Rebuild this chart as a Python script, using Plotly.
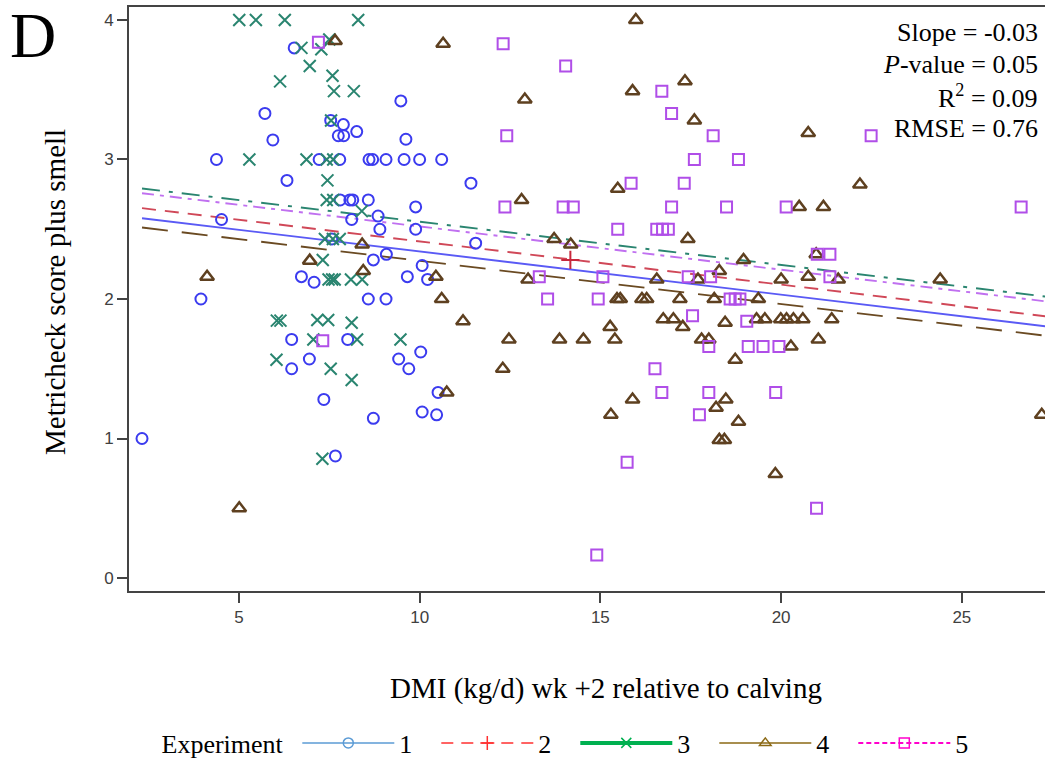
import plotly.graph_objects as go

# ---------------- data ----------------
exp1_x = [2.32, 3.95, 4.38, 4.52, 5.72, 5.94, 6.33, 6.53, 6.73, 7.08, 6.46, 6.95, 6.46, 7.35, 7.67,
          8.01, 8.72, 8.58, 9.07, 9.42, 7.22, 7.79, 8.60, 8.70, 9.07, 9.57, 10.00, 10.61, 9.48, 7.89,
          7.75, 7.90, 8.26, 9.62, 7.54, 11.42, 7.80, 8.07, 8.15, 8.58, 9.89, 8.12, 8.85, 8.90, 9.89,
          11.55, 8.72, 9.08, 9.66, 10.07, 10.22, 10.03, 9.70, 10.51, 10.07, 10.47, 7.57]
exp1_y = [1.00, 2.00, 3.00, 2.57, 3.33, 3.14, 2.85, 3.80, 2.16, 2.12, 1.71, 1.57, 1.50, 1.28, 0.875,
          1.71, 1.145, 2.00, 2.00, 1.57, 3.00, 3.00, 3.00, 3.00, 3.00, 3.00, 3.00, 3.00, 3.42, 3.25,
          3.17, 3.17, 3.20, 3.145, 3.28, 2.83, 2.71, 2.71, 2.71, 2.71, 2.66, 2.57, 2.595, 2.50, 2.50,
          2.40, 2.28, 2.32, 2.16, 2.24, 2.14, 1.62, 1.50, 1.33, 1.19, 1.17, 2.43]

exp2_x = [14.17]
exp2_y = [2.28]

exp3_x = [5.01, 5.47, 6.27, 8.30, 6.73, 7.28, 7.50, 6.96, 6.14, 7.59, 7.63, 8.18, 7.55, 5.29, 6.87,
          7.43, 7.61, 7.45, 7.43, 7.61, 8.40, 7.38, 7.60, 7.79, 7.32, 7.48, 7.58, 7.65, 8.10, 8.41,
          6.05, 6.15, 7.17, 7.47, 8.12, 7.06, 8.27, 9.47, 6.04, 7.54, 8.12, 7.31]
exp3_y = [4.00, 4.00, 4.00, 4.00, 3.80, 3.79, 3.86, 3.67, 3.56, 3.60, 3.49, 3.49, 3.28, 3.00, 3.00,
          3.00, 3.00, 2.85, 2.71, 2.71, 2.63, 2.43, 2.43, 2.43, 2.28, 2.14, 2.14, 2.14, 2.14, 2.14,
          1.845, 1.845, 1.85, 1.85, 1.83, 1.71, 1.71, 1.71, 1.565, 1.50, 1.42, 0.855]

exp4_x = [7.66, 4.12, 6.96, 8.41, 8.44, 5.01, 10.65, 15.98, 12.91, 15.89, 17.34, 17.60, 12.82, 15.48,
          13.72, 14.18, 17.42, 18.96, 18.29, 10.45, 13.00, 16.56, 17.70, 10.61, 15.46, 15.55, 16.15,
          16.28, 17.20, 18.15, 19.37, 20.75, 22.18, 20.50, 21.17, 20.97, 20.00, 20.75, 21.58, 24.40,
          11.20, 12.47, 13.87, 14.53, 15.40, 12.30, 10.75, 15.27, 16.74, 17.02, 17.28, 18.45, 17.80,
          18.00, 18.73, 19.32, 19.55, 19.99, 20.15, 20.34, 20.60, 21.40, 20.27, 21.03, 15.89, 15.29,
          18.20, 18.47, 18.82, 18.29, 18.43, 19.84, 27.21]
exp4_y = [3.85, 2.16, 2.275, 2.39, 2.20, 0.50, 3.83, 4.00, 3.43, 3.49, 3.56, 3.28, 2.71, 2.79,
          2.43, 2.39, 2.43, 2.28, 2.20, 2.16, 2.14, 2.14, 2.14, 2.00, 2.00, 2.00, 2.00,
          2.00, 2.00, 2.00, 2.00, 3.19, 2.82, 2.66, 2.66, 2.32, 2.14, 2.16, 2.14, 2.14,
          1.84, 1.71, 1.71, 1.71, 1.71, 1.50, 1.33, 1.80, 1.855, 1.855, 1.80, 1.83, 1.71,
          1.71, 1.565, 1.855, 1.855, 1.855, 1.855, 1.855, 1.855, 1.855, 1.66, 1.71, 1.28, 1.17,
          1.22, 1.28, 1.12, 0.99, 0.99, 0.745, 1.17]

exp5_x = [7.20, 7.32, 12.31, 14.04, 16.70, 16.97, 12.41, 18.12, 17.60, 18.82, 15.85, 17.32, 12.36,
          13.97, 14.25, 16.97, 18.49, 20.14, 26.64, 22.49, 15.48, 16.56, 16.72, 16.88, 21.00, 21.35,
          13.31, 15.07, 17.43, 18.05, 21.35, 13.54, 14.94, 18.59, 18.73, 18.86, 17.55, 19.05, 18.00,
          19.09, 19.50, 19.94, 16.51, 16.70, 18.00, 19.85, 17.74, 15.74, 14.90, 20.98]
exp5_y = [3.84, 1.70, 3.83, 3.67, 3.49, 3.33, 3.17, 3.17, 3.00, 3.00, 2.83, 2.83, 2.66,
          2.66, 2.66, 2.66, 2.66, 2.66, 2.66, 3.17, 2.50, 2.50, 2.50, 2.50, 2.32, 2.32,
          2.16, 2.16, 2.16, 2.16, 2.16, 2.00, 2.00, 2.00, 2.00, 2.00, 1.88, 1.84, 1.66,
          1.66, 1.66, 1.66, 1.50, 1.33, 1.33, 1.33, 1.17, 0.83, 0.165, 0.50]

experiments = ["1", "2", "3", "4", "5"]
fit_slope = -0.031
fit_intercepts = [2.651, 2.723, 2.864, 2.584, 2.830]

stats_lines = ["Slope = -0.03", "<i>P</i>-value = 0.05", "R<sup>2</sup> = 0.09", "RMSE = 0.76"]
x_ticks = [5, 10, 15, 20, 25]
y_ticks = [0, 1, 2, 3, 4]

# ---------------- styles ----------------
marker_colors = ["#3b3bef", "#c8283c", "#2a8570", "#5e4020", "#b04ee8"]
marker_symbols = ["circle-open", "cross-thin-open", "x-thin-open", "triangle-up-open", "square-open"]
marker_sizes = [11, 13, 12, 12, 11]
marker_lw = [2, 2, 2, 2.5, 2]
line_colors = ["#5a5af5", "#d04858", "#2a8570", "#6a4a22", "#c070f0"]
line_dashes = ["solid", "14px,9px", "18px,9px,4px,9px", "26px,14px", "12px,6px,4px,6px"]
legend_colors = ["#5b9bd5", "#ff3030", "#00b050", "#8b6914", "#ff00cc"]
legend_dashes = ["solid", "12px,8px", "solid", "solid", "5px,3px"]
legend_widths = [1.5, 1.5, 4, 1.5, 2]

all_x = [exp1_x, exp2_x, exp3_x, exp4_x, exp5_x]
all_y = [exp1_y, exp2_y, exp3_y, exp4_y, exp5_y]

flat_x = [v for xs in all_x for v in xs]
x_lo, x_hi = min(flat_x), max(flat_x) + 1.0

fig = go.Figure()

# regression lines
for i, name in enumerate(experiments):
    xs = [x_lo, x_hi]
    ys = [fit_intercepts[i] + fit_slope * v for v in xs]
    fig.add_trace(go.Scatter(x=xs, y=ys, mode="lines", showlegend=False, hoverinfo="skip",
                             line=dict(color=line_colors[i], width=1.9, dash=line_dashes[i])))

# points
for i, name in enumerate(experiments):
    fig.add_trace(go.Scatter(
        x=all_x[i], y=all_y[i], mode="markers", showlegend=False,
        marker=dict(symbol=marker_symbols[i], size=marker_sizes[i], color=marker_colors[i],
                    line=dict(color=marker_colors[i], width=marker_lw[i]))))

# legend entries
for i, name in enumerate(experiments):
    fig.add_trace(go.Scatter(
        x=[None], y=[None], mode="lines+markers", name=name,
        line=dict(color=legend_colors[i], dash=legend_dashes[i], width=legend_widths[i]),
        marker=dict(symbol=marker_symbols[i], size=10, color=legend_colors[i],
                    line=dict(color=legend_colors[i], width=1.5))))

W, H = 1045, 761
L, R, T, B = 129, 0, 7, 170
pw, ph = W - L - R, H - T - B


def px(xp):
    return (xp - L) / pw


def py(yp):
    return (H - B - yp) / ph


annotations = [
    dict(text="D", x=px(8), y=py(-2), xref="paper", yref="paper", xanchor="left", yanchor="top",
         showarrow=False, font=dict(family="Liberation Serif", size=64, color="black")),
    dict(text="Metricheck score plus smell", x=px(55), y=py(292), xref="paper", yref="paper",
         textangle=-90, showarrow=False, xanchor="center", yanchor="middle",
         font=dict(family="Liberation Serif", size=29, color="black")),
    dict(text="DMI (kg/d) wk +2 relative to calving", x=px(606), y=py(688), xref="paper",
         yref="paper", showarrow=False, xanchor="center", yanchor="middle",
         font=dict(family="Liberation Serif", size=29, color="black")),
]
for k, (txt, yc) in enumerate(zip(stats_lines, [33, 65, 97, 128])):
    annotations.append(dict(text=txt, x=px(1040), y=py(yc), xref="paper", yref="paper",
                            xanchor="right", yanchor="middle", showarrow=False,
                            font=dict(family="Liberation Serif", size=26, color="black")))

axis_common = dict(showgrid=False, zeroline=False, showline=True, linecolor="#444444", linewidth=2,
                   ticks="outside", ticklen=10, tickwidth=2, tickcolor="#444444",
                   tickfont=dict(family="Liberation Sans", size=17, color="#404040"))

fig.update_layout(
    width=W, height=H,
    margin=dict(l=L, r=R, t=T, b=B, autoexpand=False),
    paper_bgcolor="white", plot_bgcolor="white",
    xaxis=dict(range=[1.96, 27.3], tickvals=x_ticks, mirror=True, **axis_common),
    yaxis=dict(range=[-0.093, 4.093], tickvals=y_ticks, **axis_common),
    annotations=annotations,
    legend=dict(orientation="h", x=576 / W, xanchor="center", xref="container",
                y=1 - 743 / H, yanchor="middle", yref="container",
                title=dict(text="Experiment ", side="left",
                           font=dict(family="Liberation Serif", size=26, color="black")),
                font=dict(family="Liberation Serif", size=26, color="black"),
                itemwidth=92, entrywidth=32, entrywidthmode="pixels",
                bgcolor="rgba(0,0,0,0)"),
)

fig.write_html("out.html")
